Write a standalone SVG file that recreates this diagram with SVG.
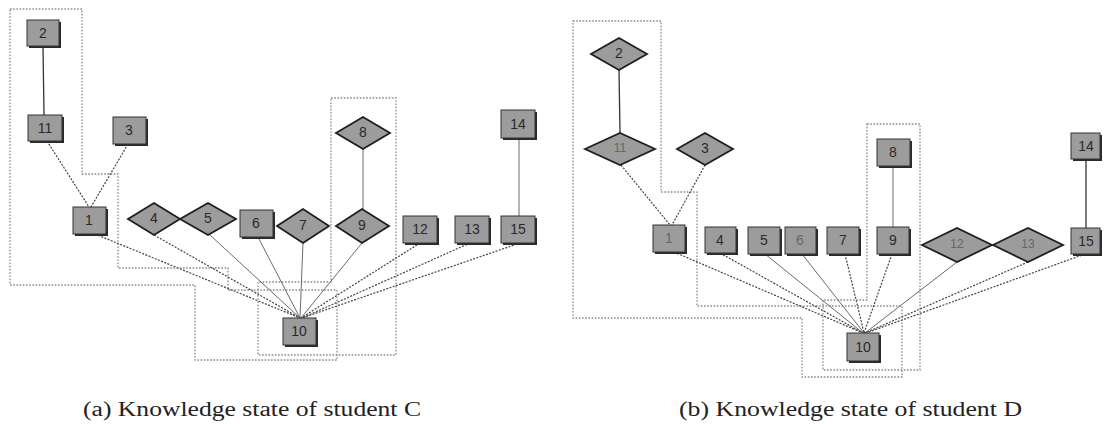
<svg xmlns="http://www.w3.org/2000/svg" width="1104" height="424" viewBox="0 0 1104 424">
<style>
.bg{fill:#fff}
.region{fill:none;stroke:#8a8a8a;stroke-width:1.3;stroke-dasharray:1.6 1.6}
.e{stroke:#6a6a6a;stroke-width:1;fill:none}
.ed{stroke:#444;stroke-width:1.2;fill:none;stroke-dasharray:2 1.4}
.es{stroke:#333;stroke-width:1.3;fill:none}
.sh{fill:#2a2a2a}
.sq{fill:#9c9c9c;stroke:#333;stroke-width:1}
.dm{fill:#9c9c9c;stroke:#1e1e1e;stroke-width:1.8;stroke-linejoin:miter}
.lb{font-family:"Liberation Sans","DejaVu Sans",sans-serif;font-size:14px;fill:#2a2a2a;text-anchor:middle;dominant-baseline:central}
.lf{fill:#666}
.cap{font-family:"Liberation Serif","DejaVu Serif",serif;font-size:20px;fill:#222}
</style>
<rect class="bg" x="0" y="0" width="1104" height="424"/>

<g id="regions">
<polygon class="region" points="10,9 82,9 82,174 118,174 118,268 228,268 228,290 337,290 337,360 195,360 195,285 10,285"/>
<polygon class="region" points="331,98 396,98 396,355 258,355 258,282 331,282"/>
<polygon class="region" points="573,21 661,21 661,192 697,192 697,306 902,306 902,377 802,377 802,318 573,318"/>
<polygon class="region" points="867,124 920,124 920,370 823,370 823,300 867,300"/>
</g>

<g id="connectors">
<line class="es" x1="43" y1="46" x2="44" y2="115"/>
<line class="ed" x1="47" y1="141" x2="89" y2="207"/>
<line class="ed" x1="128" y1="144" x2="91" y2="207"/>
<line class="e" x1="363" y1="149" x2="363" y2="209"/>
<line class="e" x1="519" y1="138" x2="519" y2="216"/>
<line class="ed" x1="95" y1="234" x2="300" y2="318"/>
<line class="ed" x1="154" y1="235" x2="300" y2="318"/>
<line class="e" x1="210" y1="235" x2="300" y2="318"/>
<line class="e" x1="258" y1="237" x2="300" y2="318"/>
<line class="e" x1="303" y1="243" x2="300" y2="318"/>
<line class="e" x1="362" y1="243" x2="301" y2="318"/>
<line class="ed" x1="420" y1="243" x2="301" y2="318"/>
<line class="ed" x1="470" y1="243" x2="302" y2="318"/>
<line class="ed" x1="520" y1="243" x2="302" y2="318"/>

<line class="es" x1="619" y1="70" x2="620" y2="133"/>
<line class="ed" x1="621" y1="165" x2="670" y2="225"/>
<line class="ed" x1="705" y1="165" x2="672" y2="225"/>
<line class="e" x1="893" y1="166" x2="893" y2="227"/>
<line class="es" x1="1086" y1="159" x2="1086" y2="228"/>
<line class="ed" x1="674" y1="252" x2="863" y2="333"/>
<line class="ed" x1="720" y1="253" x2="863" y2="333"/>
<line class="e" x1="765" y1="254" x2="863" y2="333"/>
<line class="e" x1="802" y1="254" x2="864" y2="333"/>
<line class="ed" x1="845" y1="254" x2="864" y2="333"/>
<line class="ed" x1="892" y1="254" x2="864" y2="333"/>
<line class="e" x1="957" y1="262" x2="865" y2="333"/>
<line class="ed" x1="1028" y1="262" x2="865" y2="333"/>
<line class="ed" x1="1085" y1="254" x2="866" y2="333"/>
</g>

<!-- Panel (a) -->
<g id="a-n2"><rect class="sh" x="29" y="22" width="32" height="26"/><rect class="sq" x="27" y="20" width="32" height="26"/><text class="lb" x="43" y="33">2</text></g>
<g id="a-n11"><rect class="sh" x="30" y="117" width="34" height="26"/><rect class="sq" x="28" y="115" width="34" height="26"/><text class="lb" x="45" y="128">11</text></g>
<g id="a-n3"><rect class="sh" x="115" y="119" width="33" height="27"/><rect class="sq" x="113" y="117" width="33" height="27"/><text class="lb" x="129" y="130">3</text></g>
<g id="a-n1"><rect class="sh" x="75" y="209" width="33" height="27"/><rect class="sq" x="73" y="207" width="33" height="27"/><text class="lb" x="89" y="220">1</text></g>
<g id="a-n4"><polygon class="dm" points="128,219 154,203 180,219 154,235"/><text class="lb" x="154" y="218">4</text></g>
<g id="a-n5"><polygon class="dm" points="180,219 208,203 236,219 208,235"/><text class="lb" x="208" y="218">5</text></g>
<g id="a-n6"><rect class="sh" x="242" y="212" width="33" height="27"/><rect class="sq" x="240" y="210" width="33" height="27"/><text class="lb" x="256" y="223">6</text></g>
<g id="a-n7"><polygon class="dm" points="277,226 303,209 329,226 303,243"/><text class="lb" x="303" y="225">7</text></g>
<g id="a-n8"><polygon class="dm" points="336,133 363,117 390,133 363,149"/><text class="lb" x="363" y="132">8</text></g>
<g id="a-n9"><polygon class="dm" points="336,226 362,209 389,226 362,243"/><text class="lb" x="362" y="225">9</text></g>
<g id="a-n10"><rect class="sh" x="285" y="320" width="33" height="27"/><rect class="sq" x="283" y="318" width="33" height="27"/><text class="lb" x="299" y="331">10</text></g>
<g id="a-n12"><rect class="sh" x="405" y="218" width="34" height="27"/><rect class="sq" x="403" y="216" width="34" height="27"/><text class="lb" x="420" y="229">12</text></g>
<g id="a-n13"><rect class="sh" x="457" y="218" width="34" height="27"/><rect class="sq" x="455" y="216" width="34" height="27"/><text class="lb" x="472" y="229">13</text></g>
<g id="a-n14"><rect class="sh" x="503" y="112" width="34" height="28"/><rect class="sq" x="501" y="110" width="34" height="28"/><text class="lb" x="518" y="124">14</text></g>
<g id="a-n15"><rect class="sh" x="503" y="218" width="34" height="27"/><rect class="sq" x="501" y="216" width="34" height="27"/><text class="lb" x="518" y="229">15</text></g>

<!-- Panel (b) -->
<g id="b-n2"><polygon class="dm" points="591,54 619,38 647,54 619,70"/><text class="lb" x="619" y="53">2</text></g>
<g id="b-n11"><polygon class="dm" points="585,149 620,133 655,149 620,165"/><text class="lb lf" x="620" y="148" style="font-size:12px">11</text></g>
<g id="b-n3"><polygon class="dm" points="677,149 705,133 733,149 705,165"/><text class="lb" x="705" y="148">3</text></g>
<g id="b-n1"><rect class="sh" x="655" y="227" width="32" height="27"/><rect class="sq" x="653" y="225" width="32" height="27"/><text class="lb lf" x="669" y="238">1</text></g>
<g id="b-n4"><rect class="sh" x="707" y="229" width="31" height="26"/><rect class="sq" x="705" y="227" width="31" height="26"/><text class="lb" x="720" y="240">4</text></g>
<g id="b-n5"><rect class="sh" x="750" y="229" width="32" height="27"/><rect class="sq" x="748" y="227" width="32" height="27"/><text class="lb" x="764" y="240">5</text></g>
<g id="b-n6"><rect class="sh" x="787" y="229" width="31" height="27"/><rect class="sq" x="785" y="227" width="31" height="27"/><text class="lb lf" x="800" y="240">6</text></g>
<g id="b-n7"><rect class="sh" x="829" y="229" width="32" height="27"/><rect class="sq" x="827" y="227" width="32" height="27"/><text class="lb" x="843" y="240">7</text></g>
<g id="b-n8"><rect class="sh" x="879" y="141" width="33" height="27"/><rect class="sq" x="877" y="139" width="33" height="27"/><text class="lb" x="893" y="152">8</text></g>
<g id="b-n9"><rect class="sh" x="879" y="229" width="32" height="27"/><rect class="sq" x="877" y="227" width="32" height="27"/><text class="lb" x="893" y="240">9</text></g>
<g id="b-n10"><rect class="sh" x="849" y="335" width="32" height="28"/><rect class="sq" x="847" y="333" width="32" height="28"/><text class="lb" x="863" y="347">10</text></g>
<g id="b-n12"><polygon class="dm" points="922,245 957,228 992,245 957,262"/><text class="lb lf" x="957" y="244" style="font-size:12px">12</text></g>
<g id="b-n13"><polygon class="dm" points="993,245 1028,228 1063,245 1028,262"/><text class="lb lf" x="1028" y="244" style="font-size:12px">13</text></g>
<g id="b-n14"><rect class="sh" x="1073" y="135" width="29" height="26"/><rect class="sq" x="1071" y="133" width="29" height="26"/><text class="lb" x="1086" y="146">14</text></g>
<g id="b-n15"><rect class="sh" x="1073" y="230" width="29" height="26"/><rect class="sq" x="1071" y="228" width="29" height="26"/><text class="lb" x="1086" y="241">15</text></g>

<g id="captions">
<text class="cap" x="83" y="416" textLength="338" lengthAdjust="spacingAndGlyphs">(a) Knowledge state of student C</text>
<text class="cap" x="679" y="416" textLength="343" lengthAdjust="spacingAndGlyphs">(b) Knowledge state of student D</text>
</g>
</svg>
